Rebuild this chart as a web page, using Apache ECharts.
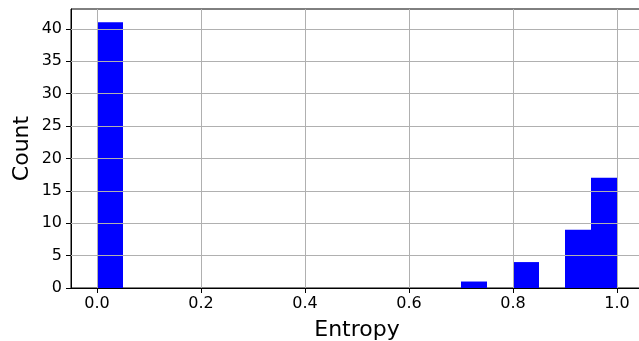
<!DOCTYPE html>
<html>
<head>
<meta charset="utf-8">
<script src="https://cdn.jsdelivr.net/npm/echarts@6/dist/echarts.min.js"></script>
<style>
html,body{margin:0;padding:0;background:#fff;overflow:hidden;}
#chart{width:660px;height:341px;}
</style>
</head>
<body>
<div id="chart"></div>
<script>
// Histogram data (non-empty bins; all bins are 0.05 wide)
const binStarts = [0.00, 0.70, 0.80, 0.90, 0.95];
const binWidth = 0.05;
const counts = [41, 1, 4, 9, 17];

// Axis ticks
const xTicks = [0.0, 0.2, 0.4, 0.6, 0.8, 1.0];
const xTickLabels = ['0.0', '0.2', '0.4', '0.6', '0.8', '1.0'];
const yTicks = [0, 5, 10, 15, 20, 25, 30, 35, 40];
const yTickLabels = ['0', '5', '10', '15', '20', '25', '30', '35', '40'];

const xRange = [-0.05, 1.05];
const yRange = [0, 43.05];

const FONT = 'DejaVu Sans';
const gridColor = '#b0b0b0';

const barData = binStarts.map((s, i) => [s, s + binWidth, counts[i]]);

const gridLines = [];
xTicks.forEach(v => gridLines.push({ xAxis: v }));
yTicks.filter(v => v > 0).forEach(v => gridLines.push({ yAxis: v }));

const chart = echarts.init(document.getElementById('chart'), null, { renderer: 'canvas' });
chart.setOption({
  animation: false,
  backgroundColor: '#ffffff',
  grid: {
    left: 71, top: 9, width: 572, height: 279,
    outerBoundsMode: 'none', containLabel: false,
    show: true, borderColor: '#000', borderWidth: 1, backgroundColor: 'transparent'
  },
  xAxis: {
    type: 'value', min: xRange[0], max: xRange[1],
    name: 'Entropy', nameLocation: 'middle', nameGap: 31, nameMoveOverlap: false,
    nameTextStyle: { fontFamily: FONT, fontSize: 22, color: '#000' },
    axisLine: { show: true, onZero: false, lineStyle: { color: '#000', width: 1 } },
    axisTick: { show: true, length: 5, inside: false, customValues: xTicks, lineStyle: { color: '#000', width: 1 } },
    axisLabel: {
      customValues: xTicks, margin: 8,
      fontFamily: FONT, fontSize: 16, color: '#000',
      formatter: v => { const i = xTicks.findIndex(t => Math.abs(t - v) < 1e-9); return i >= 0 ? xTickLabels[i] : ''; }
    },
    splitLine: { show: false }
  },
  yAxis: {
    type: 'value', min: yRange[0], max: yRange[1],
    name: 'Count', nameLocation: 'middle', nameGap: 38, nameMoveOverlap: false,
    nameTextStyle: { fontFamily: FONT, fontSize: 22, color: '#000' },
    axisLine: { show: true, onZero: false, lineStyle: { color: '#000', width: 1 } },
    axisTick: { show: true, length: 5, inside: false, customValues: yTicks, lineStyle: { color: '#000', width: 1 } },
    axisLabel: {
      customValues: yTicks, margin: 9,
      fontFamily: FONT, fontSize: 16, color: '#000',
      formatter: v => { const i = yTicks.findIndex(t => Math.abs(t - v) < 1e-9); return i >= 0 ? yTickLabels[i] : ''; }
    },
    splitLine: { show: false }
  },
  series: [
    {
      type: 'custom',
      z: 2,
      renderItem: function (params, api) {
        const p0 = api.coord([api.value(0), 0]);
        const p1 = api.coord([api.value(1), api.value(2)]);
        return {
          type: 'rect',
          shape: { x: p0[0], y: p1[1], width: p1[0] - p0[0], height: p0[1] - p1[1] },
          style: { fill: '#0000ff', stroke: null, lineWidth: 0 }
        };
      },
      encode: { x: [0, 1], y: 2 },
      data: barData
    },
    {
      type: 'line',
      z: 5,
      data: [],
      silent: true,
      markLine: {
        silent: true,
        symbol: ['none', 'none'],
        label: { show: false },
        lineStyle: { color: gridColor, width: 1, type: 'solid' },
        animation: false,
        data: gridLines
      }
    }
  ]
});
</script>
</body>
</html>
